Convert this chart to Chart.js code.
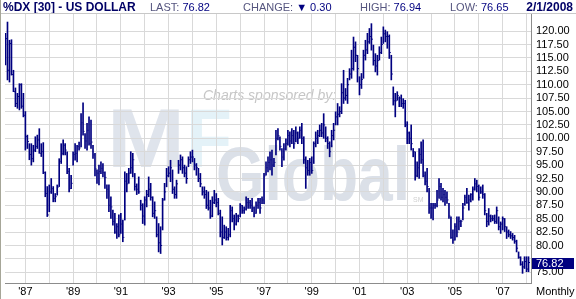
<!DOCTYPE html>
<html>
<head>
<meta charset="utf-8">
<script src="https://cdn.jsdelivr.net/npm/chart.js@4.4.1/dist/chart.umd.min.js"></script>
<style>
  html, body { margin: 0; padding: 0; background: #fff; }
  #wrap { position: relative; width: 576px; height: 299px; overflow: hidden;
          font-family: "Liberation Sans", Arial, sans-serif; }
  #chart { position: absolute; left: 0; top: 0; }
  .hd { position: absolute; top: 0; font-size: 11px; line-height: 14px; color: #000080; white-space: nowrap; }
  .hd .lbl { color: #55557f; }
  .title { font-size: 12px; font-weight: bold; color: #000066; }
  #topline { position: absolute; left: 0; top: 13px; width: 576px; height: 1px; background: #c8c8c8; }
  #leftline { position: absolute; left: 0; top: 0; width: 1px; height: 299px; background: #a6a698; }
  #period { position: absolute; left: 536px; top: 285px; font-size: 11px; line-height: 13px; color: #000; }
</style>
</head>
<body>
<div id="wrap">
  <canvas id="chart" width="576" height="299"></canvas>
  <div class="hd title" style="left:3px;">%DX [30] - US DOLLAR</div>
  <div class="hd" style="left:150px;"><span class="lbl">LAST:</span> 76.82</div>
  <div class="hd" style="left:243px;"><span class="lbl">CHANGE:</span> ▼ 0.30</div>
  <div class="hd" style="left:360px;"><span class="lbl">HIGH:</span> 76.94</div>
  <div class="hd" style="left:450px;"><span class="lbl">LOW:</span> 76.65</div>
  <div class="hd title" style="right:3px;">2/1/2008</div>
  <div id="topline"></div>
  <div id="leftline"></div>
  <div id="period">Monthly</div>
</div>
<script>
// monthly bars, Mar 1986 .. Feb 2008 (first bar sits 10 months before Jan 1987)
const startOffset = -10;

const highs = [
  119.6, 121.7, 118.3, 118.4, 112.7, 109.4, 108.4, 110.2, 110.2, 108.4,
  105.0, 100.6, 99.0, 99.0, 98.7, 100.3, 100.6, 101.8, 99.0, 99.2, 93.75, 91.0,
  91.3, 92.5, 91.0, 89.7, 91.3, 96.2, 99.0, 99.7, 99.0, 97.5, 94.4, 93.1,
  97.5, 99.0, 98.7, 99.3, 104.6, 106.6, 100.9, 102.8, 104.0, 103.4, 98.7, 97.2,
  94.1, 95.0, 95.6, 95.3, 93.75, 91.3, 91.3, 89.1, 86.6, 86.0, 84.1, 85.7,
  86.0, 84.75, 93.75, 93.45, 94.4, 97.5, 97.2, 93.45, 91.5, 92.8, 88.45, 87.8,
  89.1, 90.3, 92.8, 91.6, 89.1, 88.15, 85.35, 84.1, 83.5, 88.8, 91.6, 94.4,
  94.7, 95.9, 94.1, 90.95, 92.2, 95.9, 96.9, 96.55, 95.0, 94.7, 96.55, 97.5,
  97.8, 96.25, 95.3, 94.4, 93.45, 90.95, 90.95, 90.3, 90.0, 88.45, 89.1, 90.3,
  89.7, 88.8, 86.6, 85.35, 83.8, 83.5, 83.2, 87.5, 87.2, 85.7, 86.0, 85.7,
  87.8, 87.5, 87.2, 89.1, 88.8, 88.45, 88.8, 87.2, 88.15, 88.8, 88.8, 89.1,
  93.45, 95.6, 96.55, 97.5, 97.8, 96.25, 101.5, 101.8, 100.3, 98.1, 99.0, 99.9,
  101.5, 101.2, 101.8, 101.5, 102.15, 101.2, 102.15, 102.8, 100.3, 96.55, 95.9, 96.25,
  96.55, 99.35, 101.2, 101.5, 102.5, 102.8, 104.6, 102.15, 100.3, 99.35, 101.5, 102.8,
  104.95, 106.5, 105.9, 110.2, 112.7, 109.3, 111.2, 113.0, 116.45, 118.9, 118.0, 115.5,
  111.5, 112.1, 116.45, 118.3, 119.6, 120.5, 121.4, 117.4, 115.8, 115.5, 117.1, 118.9,
  120.8, 120.2, 119.9, 119.3, 115.5, 109.6, 108.4, 108.7, 107.75, 108.1, 107.4, 107.1,
  103.1, 101.2, 102.5, 98.1, 97.5, 95.6, 98.1, 99.35, 99.7, 93.75, 94.4, 90.65,
  87.85, 87.85, 87.85, 90.3, 92.5, 91.6, 90.65, 90.3, 90.0, 87.85, 85.35, 82.9,
  84.1, 85.35, 85.35, 84.75, 87.85, 89.4, 90.65, 89.4, 89.7, 90.95, 92.5, 92.2,
  91.3, 90.95, 91.3, 89.7, 86.0, 86.9, 85.7, 85.6, 85.7, 87.2, 85.35, 84.4,
  85.35, 85.05, 83.5, 82.9, 82.6, 82.25, 81.9, 81.0, 78.8, 77.9, 77.0, 77.9,
  77.9, 77.9
];

const lows = [
  113.7, 110.9, 110.5, 111.8, 108.7, 105.9, 105.6, 105.3, 105.6, 104.0,
  97.8, 98.1, 96.0, 95.0, 95.6, 97.5, 98.1, 97.2, 96.6, 93.4, 89.1, 85.4,
  86.3, 89.7, 88.15, 88.15, 89.4, 91.0, 95.3, 96.9, 96.9, 93.4, 90.0, 90.6,
  95.0, 95.9, 95.6, 97.8, 98.4, 100.6, 98.1, 97.8, 98.7, 98.1, 96.25, 93.0,
  91.6, 91.3, 93.4, 92.8, 90.65, 88.8, 86.3, 85.05, 83.8, 82.25, 81.3, 81.6,
  82.25, 80.7, 84.75, 90.0, 91.6, 93.45, 92.8, 90.3, 89.5, 89.7, 86.6, 84.1,
  83.8, 87.2, 89.1, 88.45, 85.35, 85.05, 81.6, 78.8, 78.5, 82.9, 88.45, 90.95,
  92.8, 91.9, 89.7, 88.8, 88.8, 93.45, 94.1, 93.45, 92.8, 91.6, 94.7, 95.3,
  95.6, 94.1, 93.1, 91.9, 90.95, 89.4, 88.8, 86.9, 86.6, 85.05, 85.35, 87.8,
  87.2, 85.7, 81.6, 80.1, 81.3, 81.0, 81.0, 81.6, 84.4, 82.9, 83.8, 84.4,
  85.35, 86.0, 86.0, 86.6, 86.9, 86.9, 86.3, 85.35, 86.0, 86.9, 86.0, 87.8,
  87.8, 93.1, 93.75, 94.1, 93.1, 94.7, 96.9, 99.7, 97.8, 94.7, 95.9, 97.8,
  98.7, 98.4, 99.0, 98.1, 99.35, 99.0, 100.0, 99.0, 95.3, 90.65, 93.1, 93.1,
  93.45, 95.3, 98.4, 99.0, 100.3, 100.3, 100.0, 99.35, 98.1, 96.55, 98.4, 99.7,
  102.5, 102.5, 104.0, 104.6, 106.5, 107.1, 106.5, 110.9, 111.2, 112.7, 114.3, 110.5,
  108.1, 109.3, 111.2, 114.6, 115.8, 117.7, 116.45, 113.65, 112.4, 111.8, 114.6, 115.8,
  117.7, 118.0, 116.8, 114.9, 110.9, 106.2, 104.0, 107.1, 105.9, 105.9, 105.6, 102.15,
  99.0, 99.0, 97.8, 96.55, 92.2, 92.8, 92.5, 95.3, 92.8, 91.3, 90.0, 86.0,
  85.05, 84.75, 86.9, 87.2, 88.8, 88.45, 88.15, 87.5, 87.85, 85.05, 81.3, 80.4,
  81.0, 81.6, 82.9, 83.5, 84.75, 87.5, 87.85, 86.6, 88.15, 88.45, 90.3, 90.0,
  88.45, 89.7, 88.8, 85.7, 83.5, 83.8, 84.4, 84.6, 84.1, 84.1, 82.9, 82.25,
  82.9, 82.6, 81.3, 81.6, 81.3, 81.0, 80.4, 78.8, 77.6, 76.3, 74.8, 75.7,
  75.1, 75.1
];

const closes = [
  118.6, 112.7, 117.7, 111.9, 108.7, 106.5, 107.8, 110.0, 106.0, 104.3,
  100.3, 99.4, 97.0, 96.2, 97.8, 98.5, 99.7, 97.2, 97.5, 93.6, 89.7, 85.7,
  90.0, 90.6, 88.8, 89.1, 90.9, 95.7, 97.2, 98.7, 97.8, 93.8, 90.6, 91.6,
  97.0, 97.2, 98.5, 98.2, 102.9, 101.3, 99.5, 101.5, 99.0, 99.3, 96.9, 94.3,
  93.5, 93.8, 94.4, 93.6, 92.7, 90.5, 87.5, 87.2, 84.5, 82.5, 83.5, 82.0,
  84.0, 81.5, 92.0, 91.5, 93.5, 94.5, 96.0, 91.0, 90.5, 90.0, 87.5, 85.5,
  88.5, 89.5, 90.5, 89.0, 86.0, 86.5, 82.0, 80.5, 80.0, 88.5, 90.0, 93.0,
  93.5, 94.5, 90.5, 89.5, 91.5, 95.0, 96.0, 94.5, 93.5, 92.5, 96.0, 96.5,
  96.5, 95.0, 94.5, 92.5, 91.5, 90.0, 89.5, 87.5, 87.0, 85.5, 88.0, 88.5,
  88.0, 86.0, 82.5, 81.5, 82.5, 81.5, 82.0, 86.5, 85.0, 84.0, 85.5, 85.0,
  87.5, 86.5, 86.8, 88.0, 88.0, 87.5, 87.0, 86.0, 87.5, 88.0, 87.0, 88.5,
  93.0, 94.5, 95.5, 96.0, 95.0, 95.5, 100.0, 100.5, 98.5, 96.5, 98.0, 99.0,
  100.5, 99.5, 100.5, 99.0, 101.0, 100.0, 101.5, 100.0, 96.0, 94.5, 94.0, 95.5,
  94.0, 99.0, 100.0, 100.5, 101.5, 101.0, 102.5, 100.0, 99.0, 97.5, 100.5, 101.5,
  104.0, 104.5, 105.0, 108.5, 107.5, 108.0, 110.0, 112.0, 113.0, 117.0, 115.5, 113.0,
  110.0, 111.0, 115.5, 116.5, 118.0, 119.0, 118.5, 114.5, 113.5, 114.5, 116.0, 117.5,
  119.5, 119.0, 119.0, 116.0, 112.0, 107.0, 107.0, 108.0, 107.5, 106.5, 106.5, 102.5,
  101.0, 100.0, 99.0, 97.5, 93.0, 94.5, 97.0, 96.0, 93.0, 92.0, 91.0, 87.0,
  87.0, 87.5, 87.5, 88.5, 91.0, 89.0, 89.5, 89.0, 88.5, 85.5, 81.5, 81.0,
  83.5, 82.5, 84.5, 84.5, 87.0, 89.0, 88.0, 88.5, 89.5, 90.5, 91.5, 91.0,
  89.0, 90.0, 89.5, 86.5, 84.5, 85.5, 85.0, 85.0, 84.5, 86.5, 83.5, 84.0,
  85.0, 83.5, 82.5, 82.0, 81.8, 81.5, 80.8, 79.5, 77.8, 76.5, 76.0, 77.0,
  75.6, 76.82
];

const yTickValues = [75, 77.5, 80, 82.5, 85, 87.5, 90, 92.5, 95, 97.5, 100, 102.5,
  105, 107.5, 110, 112.5, 115, 117.5, 120];
const yearLabels = ["'87", "'89", "'91", "'93", "'95", "'97", "'99", "'01", "'03", "'05", "'07"];

const navy = '#000080';
const gridColor = '#d9d9d9';
const axisFont = { family: '"Liberation Sans", Arial, sans-serif', size: 11 };
const lastClose = closes[closes.length - 1];
const months = highs.map((_, i) => i + startOffset);

// sponsor watermark behind the grid
const watermark = {
  id: 'watermark',
  beforeDraw(chart) {
    const ctx = chart.ctx;
    const fam = '"Liberation Sans", Arial, sans-serif';
    const fit = (text, x, top, w, h, color) => {
      const size = h / 0.716;
      ctx.save();
      ctx.font = 'bold ' + size + 'px ' + fam;
      const mw = ctx.measureText(text).width;
      ctx.translate(x, top + h);
      ctx.scale(w / mw, 1);
      ctx.fillStyle = color;
      ctx.textBaseline = 'alphabetic';
      ctx.fillText(text, 0, 0);
      ctx.restore();
    };
    fit('M', 107, 107, 78, 60, '#dfe4ec');
    fit('F', 186, 107, 46, 60, '#e4f2f8');
    fit('Global', 216, 146, 194, 54, '#dbe0e8');
    ctx.save();
    ctx.fillStyle = '#c6c6c6';
    ctx.font = 'italic 14px ' + fam;
    ctx.textBaseline = 'middle';
    ctx.fillText('Charts sponsored by:', 203, 96);
    ctx.fillStyle = '#d0d0d0';
    ctx.font = '7px ' + fam;
    ctx.fillText('SM', 413, 200);
    ctx.restore();
  }
};

// last value marker on the price axis
const lastBox = {
  id: 'lastBox',
  afterDraw(chart) {
    const ctx = chart.ctx;
    const y = Math.round(chart.scales.y.getPixelForValue(lastClose));
    ctx.save();
    ctx.fillStyle = navy;
    ctx.fillRect(532, y - 5, 42, 11);
    ctx.fillStyle = '#fff';
    ctx.font = '11px "Liberation Sans", Arial, sans-serif';
    ctx.textBaseline = 'middle';
    ctx.fillText(lastClose.toFixed(2), 536, y + 0.5);
    ctx.restore();
  }
};

const ctx = document.getElementById('chart').getContext('2d');
new Chart(ctx, {
  type: 'bar',
  data: {
    datasets: [
      {
        type: 'bar',
        data: months.map((m, i) => ({ x: m, y: [lows[i], highs[i]] })),
        backgroundColor: navy,
        borderWidth: 0,
        barThickness: 1,
        grouped: false,
        order: 2
      },
      {
        type: 'scatter',
        data: months.map((m, i) => ({ x: m + 0.5, y: closes[i] })),
        pointStyle: 'line',
        pointRadius: 0.5,
        pointBorderWidth: 1,
        borderColor: navy,
        backgroundColor: navy,
        order: 1
      }
    ]
  },
  options: {
    responsive: false,
    animation: false,
    events: [],
    layout: { padding: { top: 14, left: 2, right: 0, bottom: 0 } },
    plugins: { legend: { display: false }, tooltip: { enabled: false } },
    scales: {
      x: {
        type: 'linear',
        min: -10.25,
        max: 254.25,
        offset: false,
        grid: { offset: false, color: gridColor, drawTicks: false },
        border: { color: '#8c8c8c' },
        afterBuildTicks: (s) => {
          const t = [];
          for (let m = 0; m <= 252; m += 12) t.push({ value: m });
          s.ticks = t;
        },
        afterFit: (s) => { s.height = 16; },
        ticks: {
          autoSkip: false,
          maxRotation: 0,
          padding: 2,
          color: '#000',
          font: axisFont,
          callback: (v) => (v % 24 === 0 ? yearLabels[v / 24] : '')
        }
      },
      y: {
        position: 'right',
        min: 73.0,
        max: 123.2,
        grid: { color: gridColor, drawTicks: false },
        border: { color: '#8c8c8c' },
        afterBuildTicks: (s) => { s.ticks = yTickValues.map(v => ({ value: v })); },
        afterFit: (s) => { s.width = 45; },
        ticks: {
          autoSkip: false,
          padding: 5,
          color: '#000',
          font: axisFont,
          callback: (v) => (Math.abs(v - lastClose) < 1.5 ? '' : v.toFixed(2))
        }
      }
    }
  },
  plugins: [watermark, lastBox]
});
</script>
</body>
</html>
